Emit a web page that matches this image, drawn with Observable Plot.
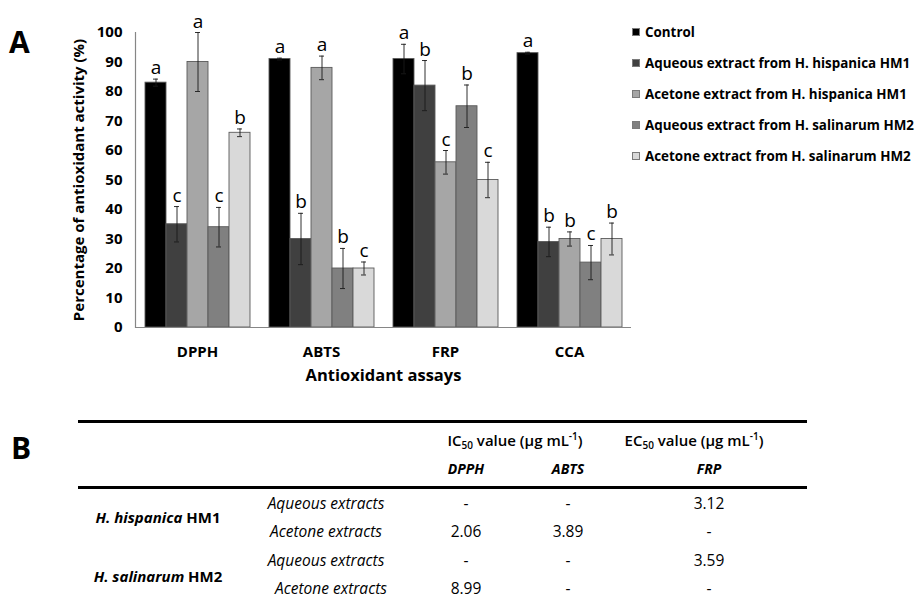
<!DOCTYPE html>
<html>
<head>
<meta charset="utf-8">
<script src="https://cdn.jsdelivr.net/npm/d3@7"></script>
<script src="https://cdn.jsdelivr.net/npm/@observablehq/plot@0.6"></script>
<style>
  html, body { margin: 0; padding: 0; background: #fff; }
  body { width: 919px; height: 601px; overflow: hidden; font-family: "Open Sans", sans-serif; }
  #wrap { position: relative; width: 919px; height: 601px; }
  #chart { position: absolute; left: 0; top: 0; }
  .panel { position: absolute; font-weight: bold; font-size: 30px; line-height: 1; }
  .legend { position: absolute; left: 632px; top: 24px; }
  .lrow { position: absolute; left: 0; height: 16px; white-space: nowrap; font-weight: bold; font-size: 13.4px; line-height: 16px; }
  .lsw { position: absolute; left: 0; top: 4px; width: 8px; height: 8px; box-sizing: border-box; border: 1px solid #7a7a7a; }
  .ltx { position: absolute; left: 13px; top: 0; }
  .cell { position: absolute; white-space: nowrap; transform: translate(-50%, -50%); line-height: 1.2; }
  .hline { position: absolute; background: #000; }
  g[aria-label="y-axis label"] text { font-size: 15px; }
  g[aria-label="fx-axis label"] text { font-size: 16.5px; }
</style>
</head>
<body>
<div id="wrap">
  <div id="chart"></div>
</div>
<script>
// ---------- Data: panel A ----------
const assays = ["DPPH", "ABTS", "FRP", "CCA"];
const series = [
  "Control",
  "Aqueous extract from H. hispanica HM1",
  "Acetone extract from H. hispanica HM1",
  "Aqueous extract from H. salinarum HM2",
  "Acetone extract from H. salinarum HM2"
];
const seriesColors = ["#000000", "#404040", "#a6a6a6", "#808080", "#d9d9d9"];

const controlValues = [83, 91, 91, 93];
const aqueousHM1Values = [35, 30, 82, 29];
const acetoneHM1Values = [90, 88, 56, 30];
const aqueousHM2Values = [34, 20, 75, 22];
const acetoneHM2Values = [66, 20, 50, 30];

const controlErrors = [1.2, 0.3, 5, 0.3];
const aqueousHM1Errors = [6, 8.7, 8.5, 5];
const acetoneHM1Errors = [10, 4, 4, 2.4];
const aqueousHM2Errors = [6.7, 6.8, 7.2, 5.8];
const acetoneHM2Errors = [1.3, 2.2, 6, 5.4];

const controlLetters = ["a", "a", "a", "a"];
const aqueousHM1Letters = ["c", "b", "b", "b"];
const acetoneHM1Letters = ["a", "a", "c", "b"];
const aqueousHM2Letters = ["c", "b", "b", "c"];
const acetoneHM2Letters = ["b", "c", "c", "b"];

const yTicks = [0, 10, 20, 30, 40, 50, 60, 70, 80, 90, 100];

// ---------- Data: panel B ----------
const strainNames = ["H. hispanica", "H. salinarum"];
const strainCodes = ["HM1", "HM2"];
const extractTypes = ["Aqueous extracts", "Acetone extracts", "Aqueous extracts", "Acetone extracts"];
const dpphIC50 = ["-", "2.06", "-", "8.99"];
const abtsIC50 = ["-", "3.89", "-", "-"];
const frpEC50 = ["3.12", "-", "3.59", "-"];

// ---------- Build table for Plot ----------
const valueSets = [controlValues, aqueousHM1Values, acetoneHM1Values, aqueousHM2Values, acetoneHM2Values];
const errorSets = [controlErrors, aqueousHM1Errors, acetoneHM1Errors, aqueousHM2Errors, acetoneHM2Errors];
const letterSets = [controlLetters, aqueousHM1Letters, acetoneHM1Letters, aqueousHM2Letters, acetoneHM2Letters];
const rows = [];
assays.forEach((a, i) => {
  series.forEach((s, j) => {
    const v = valueSets[j][i], e = errorSets[j][i];
    rows.push({assay: a, series: s, value: v, lo: v - e, hi: v + e, letter: letterSets[j][i]});
  });
});

const chart = Plot.plot({
  width: 919,
  height: 395,
  marginLeft: 135,
  marginRight: 288,
  marginTop: 32,
  marginBottom: 68,
  style: {fontFamily: "Open Sans", background: "transparent", color: "#000", overflow: "visible"},
  fx: {domain: assays, padding: 0},
  x: {domain: series, paddingInner: 0, paddingOuter: 0.37, axis: null},
  y: {domain: [0, 100]},
  color: {domain: series, range: seriesColors},
  marks: [
    Plot.barY(rows, {fx: "assay", x: "series", y: "value", fill: "series", stroke: "#5a5a5a", strokeWidth: 0.9}),
    Plot.ruleX(rows, {fx: "assay", x: "series", y1: "lo", y2: "hi", stroke: "#1a1a1a", strokeWidth: 0.9}),
    Plot.tickY(rows, {fx: "assay", x: "series", y: "hi", stroke: "#1a1a1a", strokeWidth: 0.9, insetLeft: 8, insetRight: 8}),
    Plot.tickY(rows, {fx: "assay", x: "series", y: "lo", stroke: "#1a1a1a", strokeWidth: 0.9, insetLeft: 8, insetRight: 8}),
    Plot.text(rows, {fx: "assay", x: "series", y: "hi", text: "letter", lineAnchor: "bottom", dy: -5, fontSize: 19, fill: "#000"}),
    Plot.ruleY([0], {stroke: "#868686", strokeWidth: 1.2}),
    Plot.frame({anchor: "left", facetAnchor: "left", stroke: "#868686", strokeWidth: 1.2}),
    Plot.axisY({ticks: yTicks, tickSize: 0, tickPadding: 13, fontSize: 15, fontWeight: "bold",
      label: "Percentage of antioxidant activity (%)", labelAnchor: "center", labelArrow: "none", labelOffset: 62}),
    Plot.axisFx({anchor: "bottom", tickSize: 0, tickPadding: 19, fontSize: 15, fontWeight: "bold",
      label: "Antioxidant assays", labelAnchor: "center", labelArrow: "none", labelOffset: 53})
  ]
});
const wrap = document.getElementById("wrap");
document.getElementById("chart").appendChild(chart);

// ---------- Panel letters ----------
function addDiv(cls, style, html) {
  const d = document.createElement("div");
  d.className = cls;
  Object.assign(d.style, style);
  d.innerHTML = html;
  wrap.appendChild(d);
  return d;
}
addDiv("panel", {left: "9px", top: "27px"}, "A");
addDiv("panel", {left: "11px", top: "433px"}, "B");

// ---------- Legend ----------
const legend = addDiv("legend", {}, "");
series.forEach((s, j) => {
  const r = document.createElement("div");
  r.className = "lrow";
  r.style.top = (j * 31) + "px";
  r.innerHTML = `<span class="lsw" style="background:${seriesColors[j]}"></span><span class="ltx">${s}</span>`;
  legend.appendChild(r);
});

// ---------- Panel B table ----------
addDiv("hline", {left: "78px", top: "420px", width: "729px", height: "2.5px"}, "");
addDiv("hline", {left: "78px", top: "486px", width: "729px", height: "2.5px"}, "");

const hdrStyle = {fontSize: "15px", fontWeight: "600"};
addDiv("cell", Object.assign({left: "515px", top: "440px"}, hdrStyle), "IC<sub style='font-size:10px;vertical-align:-3px'>50</sub> value (µg mL<sup style='font-size:10px;vertical-align:6px'>-1</sup>)");
addDiv("cell", Object.assign({left: "694px", top: "440px"}, hdrStyle), "EC<sub style='font-size:10px;vertical-align:-3px'>50</sub> value (µg mL<sup style='font-size:10px;vertical-align:6px'>-1</sup>)");
const subHdr = {fontSize: "14px", fontWeight: "bold", fontStyle: "italic"};
addDiv("cell", Object.assign({left: "466px", top: "469px"}, subHdr), "DPPH");
addDiv("cell", Object.assign({left: "568px", top: "469px"}, subHdr), "ABTS");
addDiv("cell", Object.assign({left: "709px", top: "469px"}, subHdr), "FRP");

const rowY = [503, 531, 560, 588];
const strainY = [517, 576];
strainNames.forEach((n, k) => {
  addDiv("cell", {left: "158px", top: strainY[k] + "px", fontSize: "15px", fontWeight: "bold"},
    `<i>${n}</i> ${strainCodes[k]}`);
});
extractTypes.forEach((t, r) => {
  addDiv("cell", {left: (r === 3 ? 331 : 326) + "px", top: rowY[r] + "px", fontSize: "15.5px", fontStyle: "italic"}, t);
  addDiv("cell", {left: "466px", top: rowY[r] + "px", fontSize: "15.5px"}, dpphIC50[r]);
  addDiv("cell", {left: "568px", top: rowY[r] + "px", fontSize: "15.5px"}, abtsIC50[r]);
  addDiv("cell", {left: "709px", top: rowY[r] + "px", fontSize: "15.5px"}, frpEC50[r]);
});
</script>
</body>
</html>
